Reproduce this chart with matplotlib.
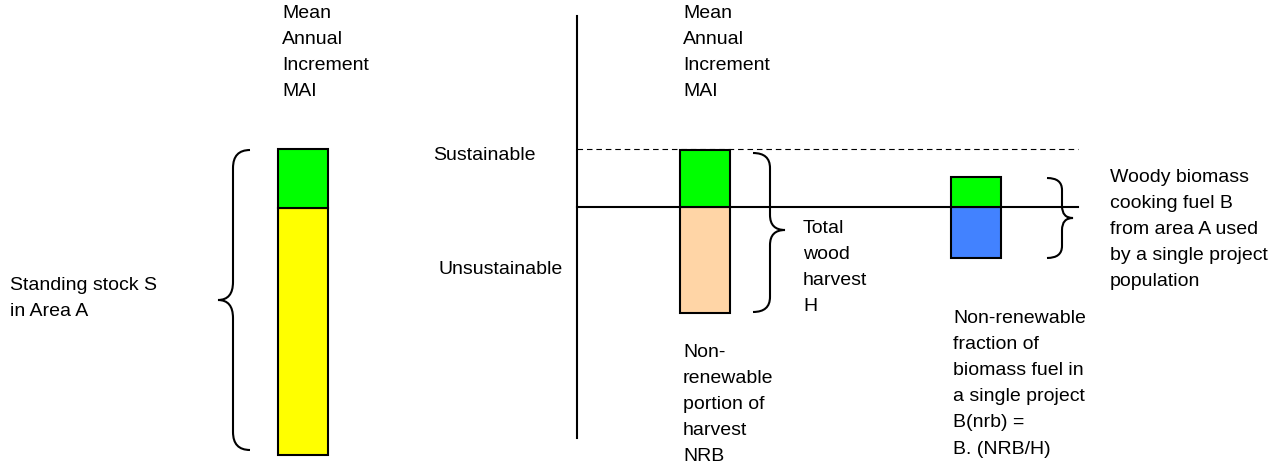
import matplotlib
matplotlib.use('Agg')
import matplotlib.pyplot as plt
from matplotlib.path import Path
from matplotlib.patches import PathPatch

plt.rcParams['font.family'] = ['Liberation Sans', 'DejaVu Sans']

# stacked columns: lower part (stock / NRB / project fuel) + MAI part on top
columns = ['Standing stock', 'Total harvest', 'Project fuel']
lower = [247, 106, 51]
mai = [59, 57, 30]
base = [15, 157, 212]
lower_colors = ['#ffff00', '#ffd5a6', '#4282ff']
mai_color = '#00ff00'

# reference levels
sustainable_level = 321
harvest_level = 263

# labels
mai_label = 'Mean\nAnnual\nIncrement\nMAI'
stock_label = 'Standing stock S\nin Area A'
harvest_label = 'Total\nwood\nharvest\nH'
nrb_label = 'Non-\nrenewable\nportion of\nharvest\nNRB'
fuel_label = 'Woody biomass\ncooking fuel B\nfrom area A used\nby a single project\npopulation'
frac_label = 'Non-renewable\nfraction of\nbiomass fuel in\na single project\nB(nrb) =\nB. (NRB/H)'

col_x = [303, 705, 976]
bar_w = 50
fs = 14
ls = 1.7


def brace(ax, x_end, x_spine, x_tip, y_top, y_bot, y_mid, r):
    verts = [(x_end, y_top), (x_spine, y_top), (x_spine, y_top - r),
             (x_spine, y_mid + r),
             (x_spine, y_mid), (x_tip, y_mid),
             (x_spine, y_mid), (x_spine, y_mid - r),
             (x_spine, y_bot + r),
             (x_spine, y_bot), (x_end, y_bot)]
    codes = [Path.MOVETO, Path.CURVE3, Path.CURVE3,
             Path.LINETO,
             Path.CURVE3, Path.CURVE3,
             Path.CURVE3, Path.CURVE3,
             Path.LINETO,
             Path.CURVE3, Path.CURVE3]
    ax.add_patch(PathPatch(Path(verts, codes), fill=False, lw=1.5, ec='black'))


fig = plt.figure(figsize=(12.74, 4.70), dpi=100)
ax = fig.add_axes([0, 0, 1, 1])
ax.set_xlim(0, 1274)
ax.set_ylim(0, 470)
ax.axis('off')

# axis lines of the right-hand diagram
ax.plot([577, 577], [32, 454], color='black', lw=1.5)
ax.plot([577, 1078], [harvest_level, harvest_level], color='black', lw=1.5)
ax.plot([577, 1078], [sustainable_level, sustainable_level], color='black',
        lw=0.8, dashes=(5, 3.5))

# bars
ax.bar(col_x, lower, bottom=base, width=bar_w, color=lower_colors,
       edgecolor='black', linewidth=1.5, zorder=3)
tops = [b + l for b, l in zip(base, lower)]
ax.bar(col_x, mai, bottom=tops, width=bar_w, color=mai_color,
       edgecolor='black', linewidth=1.5, zorder=3)

# braces
brace(ax, 250, 233, 218, 320, 20, 170, 18)
brace(ax, 753, 770, 785, 317, 158, 240, 15)
brace(ax, 1047, 1062, 1073, 292, 212, 252, 12)

# texts
kw = dict(fontsize=fs, linespacing=ls, ha='left', va='top')
ax.text(282, 465, mai_label, **kw)
ax.text(683, 465, mai_label, **kw)
ax.text(10, 193, stock_label, **kw)
ax.text(433, 315, 'Sustainable', fontsize=fs, va='center')
ax.text(438, 200, 'Unsustainable', fontsize=fs, va='center')
ax.text(803, 250, harvest_label, **kw)
ax.text(683, 126, nrb_label, **kw)
ax.text(1110, 301, fuel_label, **kw)
ax.text(953, 160, frac_label, **kw)

fig.savefig('out.png', dpi=100)
